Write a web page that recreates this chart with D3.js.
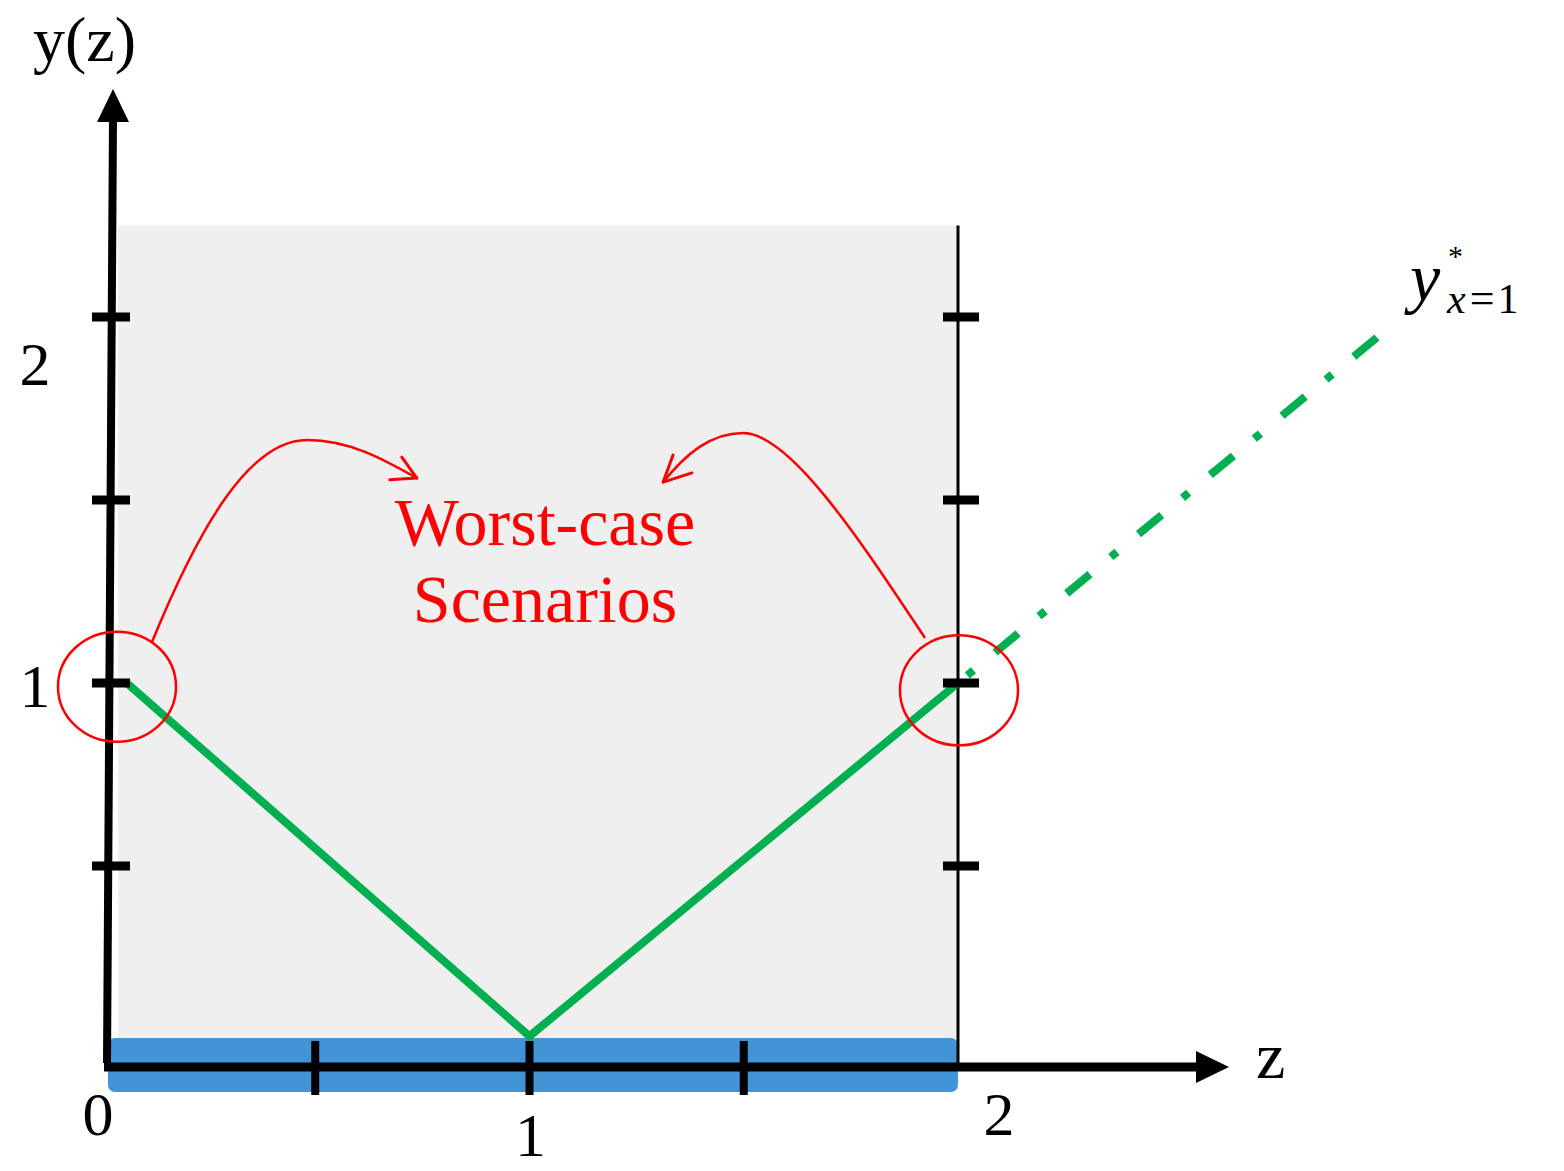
<!DOCTYPE html>
<html>
<head>
<meta charset="utf-8">
<script src="https://cdn.jsdelivr.net/npm/d3@7"></script>
<style>
  html, body { margin: 0; padding: 0; background: #ffffff; }
  svg { display: block; }
</style>
</head>
<body>
<svg id="chart" width="1564" height="1171"></svg>
<script>
// ---- data ----
const zDomain = [0, 2];
const yDomain = [0, 2];
const zTicks = [0.5, 1, 1.5];
const yTicks = [0.5, 1, 1.5, 2];
const zTickLabels = [
  { z: 0, text: "0", dx: -3, baseline: 1135 },
  { z: 1, text: "1", dx: 1, baseline: 1156 },
  { z: 2, text: "2", dx: 41, baseline: 1135 }
];
const yTickLabels = [
  { y: 2, text: "2", baseline: 385 },
  { y: 1, text: "1", baseline: 707 }
];
// solution y(z): solid over the feasible interval, dash-dot beyond it
const solidZ = [0.06, 1, 2];
const solidY = [1, 0.035, 1];
const extendZ = [2, 2.985];
const extendY = [1, 1.951];
// highlighted worst-case points
const worstZ = [0.035, 2];
const worstY = [0.99, 0.98];
const feasibleTop = 2.25;

// ---- scales ----
const x = d3.scaleLinear().domain(zDomain).range([101, 958]);
const y = d3.scaleLinear().domain(yDomain).range([1049, 317]);

const svg = d3.select("#chart");
const serif = "'Liberation Serif', 'DejaVu Serif', serif";
const axisY = 1067;           // pixel row of the z axis
const yAxisBottomX = x(0) + 6; // vertical axis leans slightly
const yAxisTopX = x(0) + 12;

// feasible region
svg.append("rect")
  .attr("x", x(0) + 17).attr("y", y(feasibleTop))
  .attr("width", x(2) - x(0) - 17).attr("height", 1040 - y(feasibleTop))
  .attr("fill", "#efefef");

// z interval band on the axis
svg.append("rect")
  .attr("x", x(0) + 7).attr("y", 1038)
  .attr("width", x(2) - x(0) - 7).attr("height", 54)
  .attr("rx", 7).attr("fill", "#4294d6");

// right boundary line at z = 2
svg.append("line")
  .attr("x1", x(2)).attr("x2", x(2))
  .attr("y1", y(feasibleTop)).attr("y2", axisY)
  .attr("stroke", "#000").attr("stroke-width", 3);

// green solution curve
const line = d3.line().x(d => x(d[0])).y(d => y(d[1]));
svg.append("path")
  .datum(d3.zip(solidZ, solidY))
  .attr("d", line)
  .attr("fill", "none").attr("stroke", "#00b050")
  .attr("stroke-width", 8).attr("stroke-linejoin", "miter");
svg.append("path")
  .datum(d3.zip(extendZ, extendY))
  .attr("d", line)
  .attr("fill", "none").attr("stroke", "#00b050")
  .attr("stroke-width", 8)
  .attr("stroke-dasharray", "0,12,8,28,30,15");

// z axis line + arrow
svg.append("line")
  .attr("x1", x(0) + 3).attr("x2", 1200)
  .attr("y1", axisY).attr("y2", axisY)
  .attr("stroke", "#000").attr("stroke-width", 9);
svg.append("path")
  .attr("d", `M1229,${axisY} L1196,${axisY - 16} L1196,${axisY + 16} Z`)
  .attr("fill", "#000");

// y axis line + arrow
svg.append("line")
  .attr("x1", yAxisBottomX).attr("x2", yAxisTopX)
  .attr("y1", axisY - 4).attr("y2", 118)
  .attr("stroke", "#000").attr("stroke-width", 8);
svg.append("path")
  .attr("d", `M${yAxisTopX},89 L${yAxisTopX - 16},122 L${yAxisTopX + 16},122 Z`)
  .attr("fill", "#000");

// z ticks
svg.selectAll(".ztick").data(zTicks).join("line")
  .attr("class", "ztick")
  .attr("x1", d => x(d)).attr("x2", d => x(d))
  .attr("y1", 1041).attr("y2", 1095)
  .attr("stroke", "#000").attr("stroke-width", 8);

// y ticks on the left axis and on the z = 2 boundary
svg.selectAll(".ytickL").data(yTicks).join("line")
  .attr("class", "ytickL")
  .attr("x1", 92).attr("x2", 130)
  .attr("y1", d => y(d)).attr("y2", d => y(d))
  .attr("stroke", "#000").attr("stroke-width", 9);
svg.selectAll(".ytickR").data(yTicks).join("line")
  .attr("class", "ytickR")
  .attr("x1", x(2) - 15).attr("x2", x(2) + 21)
  .attr("y1", d => y(d)).attr("y2", d => y(d))
  .attr("stroke", "#000").attr("stroke-width", 9);

// tick labels
svg.selectAll(".zlab").data(zTickLabels).join("text")
  .attr("class", "zlab")
  .attr("x", d => x(d.z) + d.dx).attr("y", d => d.baseline)
  .attr("text-anchor", "middle")
  .attr("font-family", serif).attr("font-size", 62)
  .text(d => d.text);
svg.selectAll(".ylab").data(yTickLabels).join("text")
  .attr("class", "ylab")
  .attr("x", 35).attr("y", d => d.baseline)
  .attr("text-anchor", "middle")
  .attr("font-family", serif).attr("font-size", 62)
  .text(d => d.text);

// axis titles
svg.append("text")
  .attr("x", 33).attr("y", 61)
  .attr("font-family", serif).attr("font-size", 64)
  .text("y(z)");
svg.append("text")
  .attr("x", 1256).attr("y", 1078)
  .attr("font-family", serif).attr("font-size", 66)
  .text("z");

// curve label y*_{x=1}
const lab = svg.append("text")
  .attr("x", 1410).attr("y", 301)
  .attr("font-family", serif);
lab.append("tspan").attr("font-size", 68).attr("font-style", "italic").text("y");
lab.append("tspan").attr("x", 1448).attr("y", 266).attr("font-size", 30).text("*");
lab.append("tspan").attr("x", 1447).attr("y", 313).attr("font-size", 42)
  .attr("font-style", "italic").text("x");
lab.append("tspan").attr("dx", 4).attr("font-size", 44).text("=");
lab.append("tspan").attr("dx", 3).attr("font-size", 42).text("1");

// worst-case circles
svg.selectAll(".wc").data(d3.zip(worstZ, worstY)).join("ellipse")
  .attr("class", "wc")
  .attr("cx", d => x(d[0]) + 1).attr("cy", d => y(d[1]))
  .attr("rx", 59).attr("ry", 55)
  .attr("fill", "none").attr("stroke", "#ff0000").attr("stroke-width", 2.5);

// curved callout arrows (points in data units)
const arrows = [
  { path: [[0.119, 1.112], [0.231, 1.432], [0.348, 1.664], [0.481, 1.664],
           [0.581, 1.664], [0.663, 1.609], [0.737, 1.560]],
    head: [[0.674, 1.555], [0.702, 1.617]] },
  { path: [[1.923, 1.123], [1.771, 1.391], [1.608, 1.683], [1.498, 1.683],
           [1.421, 1.683], [1.363, 1.623], [1.312, 1.549]],
    head: [[1.379, 1.574], [1.335, 1.623]] }
];
arrows.forEach(a => {
  const p = a.path.map(d => [x(d[0]), y(d[1])]);
  svg.append("path")
    .attr("d", `M${p[0]} C${p[1]} ${p[2]} ${p[3]} C${p[4]} ${p[5]} ${p[6]}`)
    .attr("fill", "none").attr("stroke", "#ff0000").attr("stroke-width", 2.5);
  const tip = p[6];
  a.head.forEach(h => {
    svg.append("line")
      .attr("x1", tip[0]).attr("y1", tip[1])
      .attr("x2", x(h[0])).attr("y2", y(h[1]))
      .attr("stroke", "#ff0000").attr("stroke-width", 3).attr("stroke-linecap", "round");
  });
});

// annotation text
const note = svg.append("text")
  .attr("text-anchor", "middle")
  .attr("font-family", serif).attr("font-size", 68).attr("fill", "#ff0000");
note.append("tspan").attr("x", 545).attr("y", 545).text("Worst-case");
note.append("tspan").attr("x", 545).attr("y", 622).text("Scenarios");
</script>
</body>
</html>
